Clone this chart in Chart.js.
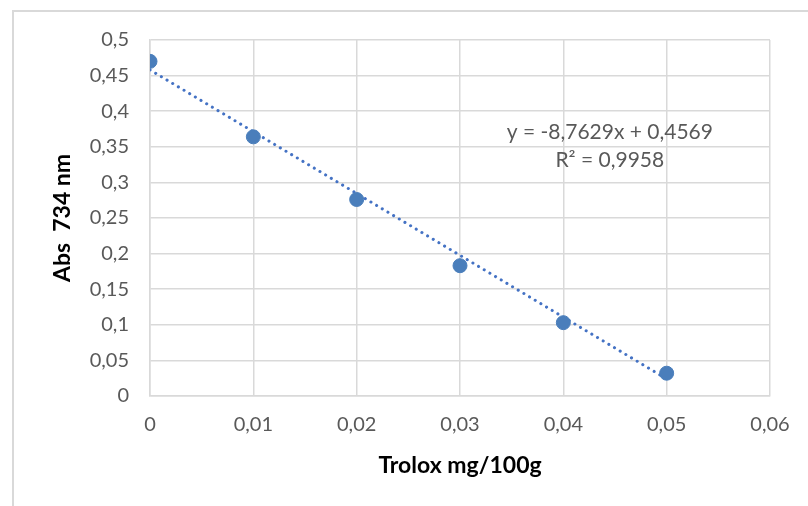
<!DOCTYPE html>
<html>
<head>
<meta charset="utf-8">
<script src="https://cdn.jsdelivr.net/npm/chart.js@4"></script>
<style>
  html, body { margin: 0; padding: 0; background: #fff; }
  #wrap { position: relative; width: 808px; height: 506px; overflow: hidden; }
  #frame { position: absolute; left: 12px; top: 10px; width: 900px; height: 600px;
           border-left: 2px solid #d9d9d9; border-top: 2px solid #d9d9d9; box-sizing: border-box; }
  canvas { position: absolute; left: 0; top: 0; }
</style>
</head>
<body>
<div id="wrap">
  <div id="frame"></div>
  <canvas id="myChart" width="808" height="506"></canvas>
</div>
<script>
// datos
const concentraciones = [0, 0.01, 0.02, 0.03, 0.04, 0.05];
const absorbancias = [0.47, 0.364, 0.276, 0.183, 0.103, 0.032];
// extremos de la línea de tendencia (x = 0 y x = 0,05)
const tendenciaX = [0, 0.05];
const tendenciaY = [0.458, 0.024];
const ecuacion = ["y = -8,7629x + 0,4569", "R² = 0,9958"];

const gris = "#595959";
const fuente = "Lato, 'Open Sans', sans-serif";

const formatoComa = (v) => String(Math.round(v * 1000) / 1000).replace(".", ",");

const textoEcuacion = {
  id: "textoEcuacion",
  afterDatasetsDraw(chart) {
    const { ctx, scales } = chart;
    const x = scales.x.getPixelForValue(0.0445);
    ctx.save();
    ctx.fillStyle = gris;
    ctx.font = "21px " + fuente;
    ctx.textAlign = "center";
    ctx.textBaseline = "middle";
    ctx.fillText(ecuacion[0], x, scales.y.getPixelForValue(0.371));
    ctx.fillText(ecuacion[1], x, scales.y.getPixelForValue(0.331));
    ctx.restore();
  },
};

const ctx = document.getElementById("myChart").getContext("2d");
new Chart(ctx, {
  type: "scatter",
  data: {
    datasets: [
      {
        label: "Abs",
        data: concentraciones.map((x, i) => ({ x: x, y: absorbancias[i] })),
        backgroundColor: "#4a7ebb",
        borderColor: "#4a7ebb",
        pointRadius: 7,
        pointHoverRadius: 7,
        order: 1,
      },
      {
        label: "Lineal",
        type: "line",
        data: tendenciaX.map((x, i) => ({ x: x, y: tendenciaY[i] })),
        borderColor: "#4472c4",
        borderWidth: 3,
        borderDash: [0.1, 6.5],
        borderCapStyle: "round",
        pointRadius: 0,
        fill: false,
        order: 2,
      },
    ],
  },
  options: {
    responsive: false,
    animation: false,
    layout: { padding: { left: 49, right: 38, top: 40, bottom: 27 } },
    plugins: { legend: { display: false }, tooltip: { enabled: false } },
    scales: {
      x: {
        type: "linear",
        min: 0,
        max: 0.06,
        afterFit: (s) => { s.height = 83; },
        grid: { color: "#d9d9d9", lineWidth: 1.5, drawTicks: false },
        border: { color: "#d9d9d9", width: 1.5 },
        ticks: {
          stepSize: 0.01,
          padding: 17,
          color: gris,
          font: { family: fuente, size: 20 },
          callback: formatoComa,
        },
        title: {
          display: true,
          text: "Trolox mg/100g",
          color: "#000",
          padding: 0,
          font: { family: fuente, size: 23, weight: "bold" },
        },
      },
      y: {
        min: 0,
        max: 0.5,
        afterFit: (s) => { s.width = 101; },
        grid: { color: "#d9d9d9", lineWidth: 1.5, drawTicks: false },
        border: { color: "#d9d9d9", width: 1.5 },
        ticks: {
          stepSize: 0.05,
          padding: 21,
          color: gris,
          font: { family: fuente, size: 20 },
          callback: formatoComa,
        },
        title: {
          display: true,
          text: "Abs  734 nm",
          color: "#000",
          padding: 0,
          font: { family: fuente, size: 23, weight: "bold" },
        },
      },
    },
  },
  plugins: [textoEcuacion],
});
</script>
</body>
</html>
